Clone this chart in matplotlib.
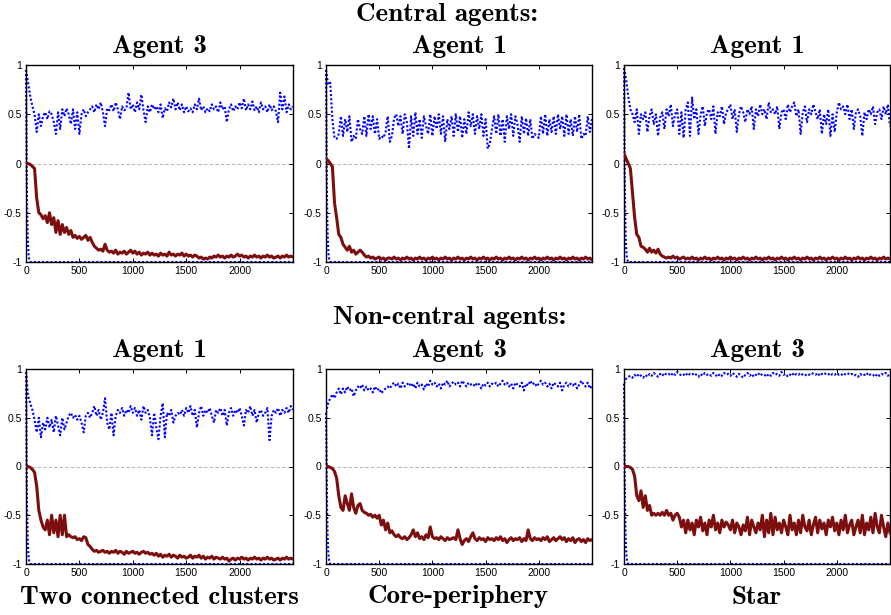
import numpy as np
import matplotlib
matplotlib.use("Agg")
import matplotlib.pyplot as plt

# ---------------- data ----------------
x_max = 2500
xtick_vals = [0, 500, 1000, 1500, 2000]
ytick_vals = [-1, -0.5, 0, 0.5, 1]
ytick_labels = ["-1", "-0.5", "0", "0.5", "1"]

row_titles = ["Central agents:", "Non-central agents:"]
agent_titles = [["Agent 3", "Agent 1", "Agent 1"], ["Agent 1", "Agent 3", "Agent 3"]]
network_labels = ["Two connected clusters", "Core-periphery", "Star"]

# time of the steep lower blue curve
low_t = [0, 3, 6, 10, 15, 20, 25, 30, 40, 2500]

# ---- panel 1: Two connected clusters, central agent 3
blue_p1 = [0.95, 0.82, 0.68, 0.58, 0.50, 0.32, 0.50, 0.38, 0.48, 0.52,
           0.45, 0.53, 0.50, 0.42, 0.30, 0.52, 0.35, 0.55, 0.48, 0.56,
           0.50, 0.40, 0.55, 0.35, 0.52, 0.30, 0.50, 0.55, 0.48, 0.52,
           0.55, 0.58, 0.52, 0.60, 0.55, 0.62, 0.52, 0.38, 0.56, 0.54,
           0.60, 0.53, 0.62, 0.55, 0.45, 0.58, 0.54, 0.56, 0.72, 0.55,
           0.60, 0.52, 0.62, 0.55, 0.70, 0.54, 0.42, 0.58, 0.52, 0.60,
           0.55, 0.58, 0.52, 0.60, 0.46, 0.56, 0.53, 0.62, 0.57, 0.66,
           0.55, 0.62, 0.54, 0.60, 0.52, 0.58, 0.53, 0.56, 0.52, 0.60,
           0.55, 0.66, 0.54, 0.58, 0.52, 0.56, 0.53, 0.60, 0.55, 0.58,
           0.52, 0.62, 0.55, 0.58, 0.42, 0.55, 0.60, 0.53, 0.58, 0.55,
           0.62, 0.56, 0.66, 0.54, 0.60, 0.55, 0.63, 0.54, 0.58, 0.52,
           0.62, 0.55, 0.58, 0.52, 0.60, 0.54, 0.58, 0.53, 0.42, 0.72,
           0.55, 0.68, 0.52, 0.60, 0.55, 0.58]
red_p1 = [0.00, 0.00, -0.01, -0.03, -0.05, -0.35, -0.50, -0.52, -0.56, -0.53,
          -0.60, -0.50, -0.62, -0.55, -0.70, -0.58, -0.72, -0.62, -0.70, -0.65,
          -0.72, -0.68, -0.75, -0.73, -0.76, -0.74, -0.77, -0.75, -0.73, -0.78,
          -0.75, -0.80, -0.84, -0.86, -0.88, -0.87, -0.89, -0.82, -0.88, -0.90,
          -0.89, -0.91, -0.88, -0.92, -0.90, -0.91, -0.89, -0.92, -0.90, -0.88,
          -0.91, -0.89, -0.92, -0.90, -0.93, -0.91, -0.92, -0.90, -0.93, -0.91,
          -0.93, -0.92, -0.94, -0.91, -0.93, -0.92, -0.94, -0.90, -0.93, -0.92,
          -0.94, -0.92, -0.93, -0.91, -0.94, -0.92, -0.94, -0.93, -0.95, -0.93,
          -0.94, -0.96, -0.95, -0.97, -0.96, -0.97, -0.95, -0.96, -0.94, -0.95,
          -0.93, -0.95, -0.94, -0.96, -0.94, -0.95, -0.93, -0.95, -0.94, -0.92,
          -0.94, -0.93, -0.95, -0.94, -0.96, -0.94, -0.95, -0.93, -0.95, -0.94,
          -0.96, -0.94, -0.95, -0.93, -0.95, -0.94, -0.96, -0.95, -0.94, -0.96,
          -0.94, -0.95, -0.93, -0.95, -0.94, -0.95]
low_p1 = [0.95, 0.50, 0.00, -0.40, -0.70, -0.85, -0.93, -0.97, -1.00, -1.00]

# ---- panel 2: Core-periphery, central agent 1
blue_p2 = [0.95, 0.80, 0.82, 0.45, 0.26, 0.25, 0.30, 0.48, 0.28, 0.45,
           0.32, 0.48, 0.22, 0.28, 0.25, 0.45, 0.35, 0.30, 0.48, 0.28,
           0.50, 0.35, 0.48, 0.30, 0.45, 0.25, 0.28, 0.26, 0.32, 0.48,
           0.22, 0.28, 0.46, 0.50, 0.38, 0.48, 0.30, 0.50, 0.42, 0.15,
           0.48, 0.28, 0.52, 0.30, 0.45, 0.26, 0.48, 0.38, 0.30, 0.50,
           0.28, 0.48, 0.35, 0.50, 0.30, 0.48, 0.22, 0.45, 0.35, 0.48,
           0.28, 0.50, 0.32, 0.48, 0.26, 0.45, 0.30, 0.52, 0.38, 0.50,
           0.30, 0.48, 0.35, 0.50, 0.28, 0.45, 0.15, 0.20, 0.35, 0.48,
           0.30, 0.50, 0.28, 0.45, 0.22, 0.48, 0.35, 0.50, 0.28, 0.48,
           0.40, 0.22, 0.48, 0.30, 0.46, 0.28, 0.45, 0.25, 0.30, 0.28,
           0.26, 0.48, 0.30, 0.50, 0.28, 0.45, 0.32, 0.48, 0.30, 0.50,
           0.35, 0.48, 0.28, 0.50, 0.30, 0.45, 0.28, 0.48, 0.32, 0.50,
           0.25, 0.30, 0.28, 0.48, 0.32, 0.45]
red_p2 = [0.05, 0.03, 0.00, -0.03, -0.40, -0.55, -0.72, -0.75, -0.82, -0.85,
          -0.88, -0.84, -0.90, -0.88, -0.92, -0.90, -0.88, -0.90, -0.93, -0.95,
          -0.94, -0.96, -0.95, -0.97, -0.96, -0.95, -0.97, -0.96, -0.98, -0.96,
          -0.96, -0.97, -0.95, -0.97, -0.96, -0.98, -0.96, -0.97, -0.95, -0.97,
          -0.96, -0.98, -0.96, -0.97, -0.95, -0.97, -0.96, -0.98, -0.96, -0.97,
          -0.95, -0.97, -0.96, -0.98, -0.96, -0.97, -0.95, -0.97, -0.96, -0.98,
          -0.96, -0.97, -0.95, -0.97, -0.96, -0.98, -0.96, -0.97, -0.95, -0.97,
          -0.96, -0.98, -0.96, -0.97, -0.95, -0.97, -0.96, -0.98, -0.96, -0.97,
          -0.95, -0.97, -0.96, -0.98, -0.96, -0.97, -0.95, -0.97, -0.96, -0.98,
          -0.96, -0.97, -0.95, -0.97, -0.96, -0.98, -0.96, -0.97, -0.95, -0.97,
          -0.96, -0.98, -0.96, -0.97, -0.95, -0.97, -0.96, -0.98, -0.96, -0.97,
          -0.95, -0.97, -0.96, -0.98, -0.96, -0.97, -0.95, -0.97, -0.96, -0.98,
          -0.96, -0.97, -0.95, -0.97, -0.96, -0.98]
low_p2 = [0.95, 0.50, 0.00, -0.40, -0.70, -0.85, -0.93, -0.97, -1.00, -1.00]

# ---- panel 3: Star, central agent 1
blue_p3 = [0.97, 0.85, 0.68, 0.55, 0.50, 0.42, 0.55, 0.30, 0.50, 0.45,
           0.52, 0.32, 0.48, 0.55, 0.40, 0.50, 0.28, 0.47, 0.52, 0.35,
           0.55, 0.48, 0.60, 0.38, 0.50, 0.55, 0.30, 0.52, 0.26, 0.55,
           0.62, 0.28, 0.67, 0.45, 0.55, 0.30, 0.50, 0.58, 0.38, 0.52,
           0.55, 0.45, 0.58, 0.30, 0.52, 0.48, 0.58, 0.40, 0.52, 0.55,
           0.60, 0.45, 0.55, 0.32, 0.50, 0.58, 0.52, 0.42, 0.55, 0.50,
           0.58, 0.35, 0.55, 0.48, 0.60, 0.50, 0.55, 0.45, 0.62, 0.52,
           0.55, 0.50, 0.58, 0.35, 0.52, 0.55, 0.45, 0.60, 0.52, 0.58,
           0.62, 0.48, 0.55, 0.30, 0.52, 0.58, 0.42, 0.55, 0.50, 0.60,
           0.52, 0.45, 0.55, 0.30, 0.50, 0.40, 0.55, 0.28, 0.50, 0.32,
           0.52, 0.62, 0.55, 0.58, 0.50, 0.60, 0.45, 0.55, 0.35, 0.52,
           0.55, 0.48, 0.28, 0.52, 0.45, 0.55, 0.50, 0.58, 0.40, 0.52,
           0.55, 0.45, 0.58, 0.50, 0.60, 0.38]
red_p3 = [0.10, 0.05, 0.00, -0.05, -0.30, -0.55, -0.72, -0.75, -0.84, -0.85,
          -0.87, -0.90, -0.86, -0.90, -0.88, -0.91, -0.87, -0.92, -0.94, -0.95,
          -0.96, -0.95, -0.96, -0.94, -0.96, -0.95, -0.97, -0.96, -0.95, -0.97,
          -0.96, -0.97, -0.95, -0.97, -0.96, -0.98, -0.96, -0.97, -0.95, -0.97,
          -0.96, -0.98, -0.96, -0.97, -0.95, -0.97, -0.96, -0.98, -0.96, -0.97,
          -0.95, -0.97, -0.96, -0.98, -0.96, -0.97, -0.95, -0.97, -0.96, -0.98,
          -0.96, -0.97, -0.95, -0.97, -0.96, -0.98, -0.96, -0.97, -0.95, -0.97,
          -0.96, -0.98, -0.96, -0.97, -0.95, -0.97, -0.96, -0.98, -0.96, -0.97,
          -0.95, -0.97, -0.96, -0.98, -0.96, -0.97, -0.95, -0.97, -0.96, -0.98,
          -0.96, -0.97, -0.95, -0.97, -0.96, -0.98, -0.96, -0.97, -0.95, -0.97,
          -0.96, -0.98, -0.96, -0.97, -0.95, -0.97, -0.96, -0.98, -0.96, -0.97,
          -0.95, -0.97, -0.96, -0.98, -0.96, -0.97, -0.95, -0.97, -0.96, -0.98,
          -0.96, -0.97, -0.95, -0.97, -0.96, -0.97]
low_p3 = [0.97, 0.50, 0.00, -0.40, -0.70, -0.85, -0.93, -0.97, -1.00, -1.00]

# ---- panel 4: Two connected clusters, non-central agent 1
blue_p4 = [0.97, 0.72, 0.65, 0.58, 0.48, 0.35, 0.50, 0.30, 0.45, 0.38,
           0.50, 0.40, 0.48, 0.35, 0.52, 0.42, 0.32, 0.50, 0.38, 0.45,
           0.52, 0.55, 0.50, 0.53, 0.48, 0.52, 0.45, 0.35, 0.52, 0.55,
           0.50, 0.55, 0.62, 0.52, 0.58, 0.48, 0.55, 0.70, 0.45, 0.38,
           0.55, 0.32, 0.52, 0.58, 0.55, 0.60, 0.52, 0.58, 0.55, 0.62,
           0.55, 0.60, 0.52, 0.58, 0.48, 0.62, 0.55, 0.58, 0.50, 0.32,
           0.55, 0.40, 0.28, 0.52, 0.65, 0.30, 0.55, 0.52, 0.58, 0.45,
           0.52, 0.55, 0.53, 0.58, 0.52, 0.60, 0.55, 0.62, 0.52, 0.58,
           0.40, 0.55, 0.62, 0.52, 0.58, 0.55, 0.60, 0.52, 0.45, 0.58,
           0.55, 0.60, 0.52, 0.58, 0.42, 0.55, 0.60, 0.52, 0.58, 0.55,
           0.60, 0.52, 0.42, 0.58, 0.55, 0.62, 0.52, 0.58, 0.45, 0.55,
           0.58, 0.52, 0.55, 0.60, 0.27, 0.52, 0.58, 0.55, 0.60, 0.52,
           0.58, 0.55, 0.60, 0.55, 0.62, 0.58]
red_p4 = [0.00, 0.00, -0.01, -0.03, -0.06, -0.20, -0.45, -0.55, -0.62, -0.65,
          -0.55, -0.70, -0.50, -0.68, -0.55, -0.72, -0.50, -0.70, -0.50, -0.72,
          -0.70, -0.72, -0.73, -0.72, -0.75, -0.74, -0.76, -0.72, -0.73, -0.80,
          -0.82, -0.85, -0.87, -0.86, -0.88, -0.87, -0.86, -0.88, -0.87, -0.89,
          -0.87, -0.88, -0.86, -0.89, -0.87, -0.88, -0.90, -0.87, -0.89, -0.88,
          -0.87, -0.89, -0.88, -0.90, -0.88, -0.87, -0.89, -0.88, -0.90, -0.89,
          -0.91, -0.89, -0.92, -0.90, -0.93, -0.91, -0.92, -0.90, -0.93, -0.91,
          -0.92, -0.94, -0.91, -0.93, -0.92, -0.94, -0.93, -0.91, -0.94, -0.92,
          -0.93, -0.91, -0.94, -0.92, -0.95, -0.93, -0.94, -0.92, -0.95, -0.93,
          -0.94, -0.95, -0.93, -0.95, -0.94, -0.97, -0.95, -0.94, -0.96, -0.94,
          -0.95, -0.93, -0.95, -0.94, -0.96, -0.94, -0.95, -0.93, -0.95, -0.94,
          -0.96, -0.94, -0.95, -0.93, -0.95, -0.94, -0.96, -0.95, -0.94, -0.96,
          -0.94, -0.95, -0.93, -0.95, -0.94, -0.95]
low_p4 = [0.97, 0.50, 0.00, -0.40, -0.70, -0.85, -0.93, -0.97, -1.00, -1.00]

# ---- panel 5: Core-periphery, non-central agent 3
blue_p5 = [0.55, 0.65, 0.70, 0.74, 0.70, 0.76, 0.80, 0.74, 0.80, 0.76,
           0.82, 0.78, 0.80, 0.72, 0.78, 0.82, 0.80, 0.84, 0.78, 0.82,
           0.78, 0.80, 0.76, 0.82, 0.78, 0.80, 0.75, 0.78, 0.80, 0.82,
           0.80, 0.84, 0.86, 0.82, 0.85, 0.80, 0.86, 0.82, 0.84, 0.86,
           0.82, 0.85, 0.80, 0.86, 0.82, 0.84, 0.79, 0.85, 0.82, 0.88,
           0.84, 0.86, 0.82, 0.85, 0.80, 0.86, 0.84, 0.88, 0.82, 0.85,
           0.87, 0.84, 0.86, 0.82, 0.88, 0.85, 0.82, 0.86, 0.84, 0.85,
           0.82, 0.86, 0.84, 0.80, 0.85, 0.83, 0.86, 0.82, 0.85, 0.84,
           0.86, 0.82, 0.85, 0.88, 0.84, 0.86, 0.82, 0.85, 0.80, 0.86,
           0.84, 0.82, 0.86, 0.78, 0.85, 0.83, 0.88, 0.84, 0.86, 0.82,
           0.85, 0.88, 0.84, 0.86, 0.82, 0.85, 0.80, 0.86, 0.84, 0.82,
           0.86, 0.78, 0.84, 0.86, 0.82, 0.85, 0.83, 0.86, 0.80, 0.84,
           0.88, 0.84, 0.82, 0.86, 0.80, 0.83]
red_p5 = [0.00, 0.00, -0.01, -0.02, -0.05, -0.12, -0.30, -0.42, -0.45, -0.30,
          -0.38, -0.45, -0.28, -0.42, -0.48, -0.40, -0.38, -0.45, -0.47, -0.48,
          -0.50, -0.49, -0.52, -0.50, -0.53, -0.50, -0.60, -0.55, -0.65, -0.58,
          -0.68, -0.66, -0.70, -0.72, -0.70, -0.73, -0.74, -0.72, -0.75, -0.73,
          -0.70, -0.65, -0.72, -0.68, -0.74, -0.72, -0.75, -0.70, -0.73, -0.62,
          -0.72, -0.74, -0.73, -0.75, -0.72, -0.74, -0.76, -0.73, -0.75, -0.74,
          -0.73, -0.75, -0.65, -0.74, -0.80, -0.76, -0.74, -0.77, -0.72, -0.68,
          -0.74, -0.76, -0.73, -0.75, -0.74, -0.77, -0.73, -0.75, -0.74, -0.76,
          -0.73, -0.75, -0.72, -0.76, -0.74, -0.78, -0.75, -0.73, -0.76, -0.74,
          -0.75, -0.73, -0.77, -0.74, -0.76, -0.65, -0.74, -0.76, -0.73, -0.75,
          -0.74, -0.76, -0.73, -0.75, -0.72, -0.77, -0.75, -0.73, -0.76, -0.74,
          -0.72, -0.75, -0.73, -0.77, -0.74, -0.76, -0.73, -0.78, -0.75, -0.74,
          -0.77, -0.75, -0.78, -0.74, -0.76, -0.75]
low_p5 = [0.55, 0.30, 0.00, -0.40, -0.70, -0.85, -0.93, -0.97, -1.00, -1.00]

# ---- panel 6: Star, non-central agent 3
blue_p6 = [0.85, 0.90, 0.92, 0.93, 0.91, 0.94, 0.92, 0.95, 0.93, 0.91,
           0.94, 0.92, 0.95, 0.93, 0.96, 0.94, 0.92, 0.95, 0.93, 0.96,
           0.94, 0.95, 0.93, 0.96, 0.94, 0.97, 0.95, 0.93, 0.94, 0.96,
           0.93, 0.95, 0.94, 0.96, 0.94, 0.92, 0.95, 0.93, 0.96, 0.94,
           0.95, 0.93, 0.96, 0.94, 0.92, 0.95, 0.93, 0.96, 0.94, 0.95,
           0.93, 0.96, 0.94, 0.92, 0.95, 0.93, 0.91, 0.94, 0.96, 0.93,
           0.95, 0.92, 0.94, 0.96, 0.93, 0.95, 0.94, 0.92, 0.95, 0.93,
           0.96, 0.94, 0.95, 0.93, 0.97, 0.94, 0.95, 0.92, 0.94, 0.96,
           0.93, 0.95, 0.94, 0.96, 0.94, 0.93, 0.95, 0.94, 0.96, 0.95,
           0.94, 0.96, 0.93, 0.95, 0.94, 0.96, 0.95, 0.93, 0.95, 0.94,
           0.96, 0.94, 0.95, 0.93, 0.95, 0.96, 0.94, 0.95, 0.93, 0.94,
           0.92, 0.95, 0.93, 0.94, 0.96, 0.93, 0.95, 0.94, 0.92, 0.95,
           0.93, 0.95, 0.94, 0.96, 0.93, 0.95]
red_p6 = [0.00, 0.00, 0.00, -0.01, -0.03, -0.10, -0.30, -0.35, -0.25, -0.42,
          -0.30, -0.45, -0.40, -0.50, -0.48, -0.50, -0.48, -0.50, -0.47, -0.50,
          -0.45, -0.50, -0.48, -0.55, -0.50, -0.48, -0.52, -0.62, -0.55, -0.68,
          -0.55, -0.65, -0.58, -0.70, -0.55, -0.62, -0.52, -0.66, -0.58, -0.70,
          -0.55, -0.62, -0.50, -0.65, -0.58, -0.68, -0.55, -0.62, -0.57, -0.60,
          -0.65, -0.55, -0.68, -0.58, -0.62, -0.70, -0.60, -0.66, -0.52, -0.70,
          -0.55, -0.62, -0.68, -0.58, -0.65, -0.50, -0.72, -0.55, -0.68, -0.48,
          -0.70, -0.52, -0.65, -0.58, -0.68, -0.55, -0.62, -0.70, -0.50, -0.65,
          -0.58, -0.70, -0.55, -0.68, -0.50, -0.62, -0.66, -0.55, -0.70, -0.60,
          -0.52, -0.68, -0.55, -0.64, -0.58, -0.70, -0.55, -0.62, -0.52, -0.66,
          -0.58, -0.70, -0.55, -0.65, -0.50, -0.68, -0.60, -0.55, -0.70, -0.62,
          -0.55, -0.68, -0.50, -0.70, -0.58, -0.65, -0.52, -0.68, -0.48, -0.62,
          -0.68, -0.50, -0.62, -0.72, -0.58, -0.68]
low_p6 = [0.85, 0.50, 0.00, -0.40, -0.70, -0.85, -0.93, -0.97, -1.00, -1.00]

blues = [[blue_p1, blue_p2, blue_p3], [blue_p4, blue_p5, blue_p6]]
reds = [[red_p1, red_p2, red_p3], [red_p4, red_p5, red_p6]]
lows = [[low_p1, low_p2, low_p3], [low_p4, low_p5, low_p6]]

# ---------------- figure ----------------
W, H = 891, 615
fig = plt.figure(figsize=(W / 100, H / 100), dpi=100)

col_px = [(26, 293), (326, 592), (624, 890)]
row_px = [(65, 262), (369, 564)]

BLUE = "#0000ff"
RED = "#7c0e0e"
title_font = dict(family="cmb10", size=19.5)
tick_font = "Liberation Sans"

for r in range(2):
    top, bot = row_px[r]
    for c in range(3):
        l, rr = col_px[c]
        ax = fig.add_axes([l / W, 1 - bot / H, (rr - l) / W, (bot - top) / H])
        ax.axhline(0, color="#b8b8b8", lw=0.8, ls=(0, (3, 2)), zorder=1)
        yb = blues[r][c]
        tb = np.linspace(0, x_max, len(yb))
        ax.plot(tb, yb, color=BLUE, ls=(0, (1, 1)), lw=1.5, zorder=2)
        ax.plot(low_t, lows[r][c], color=BLUE, ls=(0, (1, 1)), lw=1.5,
                zorder=2, clip_on=False)
        yr = reds[r][c]
        tr = np.linspace(0, x_max, len(yr))
        ax.plot(tr, yr, color=RED, lw=2.2, zorder=3)
        ax.set_xlim(0, x_max)
        ax.set_ylim(-1, 1)
        ax.set_xticks(xtick_vals)
        ax.set_xticklabels([str(v) for v in xtick_vals], fontfamily=tick_font)
        ax.set_yticks(ytick_vals)
        ax.set_yticklabels(ytick_labels, fontfamily=tick_font)
        ax.tick_params(direction="in", top=True, right=True, length=3,
                       width=0.7, labelsize=7.5, pad=3)
        for s in ax.spines.values():
            s.set_linewidth(1.0)
        # agent title
        fig.text((l + rr) / 2 / W, 1 - (top - 19) / H, agent_titles[r][c],
                 ha="center", va="center", **title_font)

fig.text(447 / W, 1 - 14 / H, row_titles[0], ha="center", va="center", **title_font)
fig.text(450 / W, 1 - 317 / H, row_titles[1], ha="center", va="center", **title_font)

label_x = [159, 458, 757]
for c in range(3):
    fig.text(label_x[c] / W, 1 - 597 / H, network_labels[c], ha="center",
             va="center", **title_font)

fig.savefig("out.png", dpi=100)
